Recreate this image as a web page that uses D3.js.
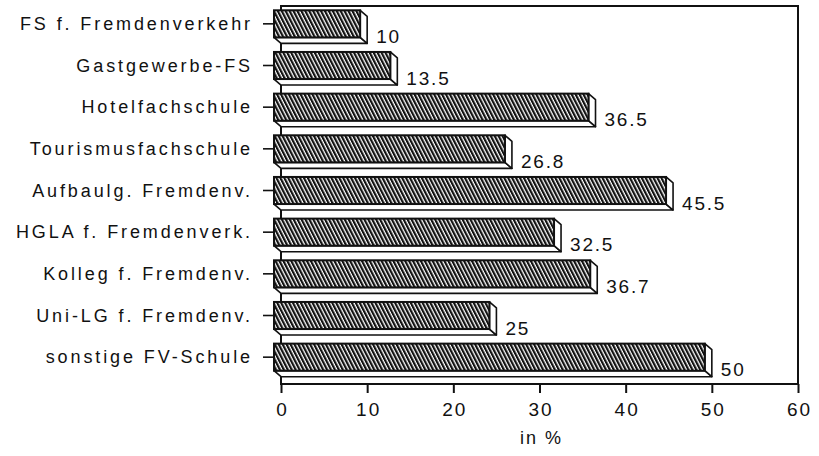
<!DOCTYPE html>
<html>
<head>
<meta charset="utf-8">
<script src="https://cdn.jsdelivr.net/npm/d3@7"></script>
<style>
  body { margin: 0; background: #fff; }
  text { font-family: "Liberation Sans", Arial, sans-serif; fill: #111; }
</style>
</head>
<body>
<div id="chart"></div>
<script>
// chart data
var categories = ["FS f. Fremdenverkehr", "Gastgewerbe-FS", "Hotelfachschule", "Tourismusfachschule",
  "Aufbaulg. Fremdenv.", "HGLA f. Fremdenverk.", "Kolleg f. Fremdenv.", "Uni-LG f. Fremdenv.", "sonstige FV-Schule"]
var values = [10, 13.5, 36.5, 26.8, 45.5, 32.5, 36.7, 25, 50]
var valueLabels = ["10", "13.5", "36.5", "26.8", "45.5", "32.5", "36.7", "25", "50"]
var xTicks = [0, 10, 20, 30, 40, 50, 60]
var xTitle = "in %"

const W = 819, H = 456
const plot = {left: 281, right: 798, top: 6, bottom: 384}
const depth = {dx: 7, dy: 6}   // 3d offset, front face sits up-left of the back plane

var svg = d3.select("#chart").append("svg")
  .attr("width", W).attr("height", H)

// hatch for the front faces
var defs = svg.append("defs")
defs.append("pattern")
  .attr("id", "hatch")
  .attr("patternUnits", "userSpaceOnUse")
  .attr("width", 3.5).attr("height", 10)
  .attr("patternTransform", "rotate(-27)")
  .call(p => {
    p.append("rect").attr("width", 3.5).attr("height", 10).attr("fill", "#fff")
    p.append("rect").attr("width", 2.2).attr("height", 10).attr("fill", "#111")
  })

var x = d3.scaleLinear().domain([0, 60]).range([plot.left, plot.right])
var y = d3.scaleBand().domain(categories)
  .range([plot.top + 3, plot.bottom])
  .paddingInner(0.35).paddingOuter(0.175)

// back frame
svg.append("rect")
  .attr("x", plot.left).attr("y", plot.top)
  .attr("width", plot.right - plot.left).attr("height", plot.bottom - plot.top)
  .attr("fill", "none").attr("stroke", "#111").attr("stroke-width", 2)

// x axis
var xAxis = svg.append("g")
  .attr("transform", "translate(0," + plot.bottom + ")")
  .call(d3.axisBottom(x).tickValues(xTicks).tickSize(9).tickPadding(10))
xAxis.select(".domain").remove()
xAxis.selectAll("line").attr("stroke", "#111").attr("stroke-width", 2)
xAxis.selectAll("text")
  .style("font-family", "'Liberation Sans', Arial, sans-serif")
  .style("font-size", "19px").style("letter-spacing", "2px")
  .attr("dx", "1px")
  .attr("fill", "#111")

svg.append("text")
  .attr("x", (plot.left + plot.right) / 2 + 2).attr("y", 444)
  .attr("text-anchor", "middle")
  .style("font-size", "18px").style("letter-spacing", "2px")
  .text(xTitle)

// bars
var bars = svg.selectAll(".bar")
  .data(categories)
  .enter().append("g")
  .attr("class", "bar")

bars.each(function(c, i) {
  var g = d3.select(this)
  var bt = y(c) - depth.dy          // front top
  var bh = y.bandwidth()
  var x0 = x(0) - depth.dx
  var x1 = x(values[i]) - depth.dx
  var dx = depth.dx, dy = depth.dy
  // bottom face
  g.append("path")
    .attr("d", "M" + x0 + "," + (bt + bh) + "L" + (x0 + dx) + "," + (bt + bh + dy) +
      "L" + (x1 + dx) + "," + (bt + bh + dy) + "L" + x1 + "," + (bt + bh) + "Z")
    .attr("fill", "#fff").attr("stroke", "#111").attr("stroke-width", 1.6)
    .attr("stroke-linejoin", "round")
  // right face
  g.append("path")
    .attr("d", "M" + x1 + "," + bt + "L" + (x1 + dx) + "," + (bt + dy) +
      "L" + (x1 + dx) + "," + (bt + bh + dy) + "L" + x1 + "," + (bt + bh) + "Z")
    .attr("fill", "#fff").attr("stroke", "#111").attr("stroke-width", 1.6)
    .attr("stroke-linejoin", "round")
  // front face
  g.append("rect")
    .attr("x", x0).attr("y", bt)
    .attr("width", x1 - x0).attr("height", bh)
    .attr("fill", "url(#hatch)").attr("stroke", "#111").attr("stroke-width", 2)
  // tick
  g.append("line")
    .attr("x1", x0 - 11).attr("x2", x0)
    .attr("y1", bt + bh / 2).attr("y2", bt + bh / 2)
    .attr("stroke", "#111").attr("stroke-width", 1.6)
  // value label
  g.append("text")
    .attr("x", x(values[i]) + 9).attr("y", bt + bh / 2 + 19)
    .style("font-size", "19px").style("letter-spacing", "1.8px")
    .text(valueLabels[i])
  // category label
  g.append("text")
    .attr("x", x0 - 21).attr("y", bt + bh / 2)
    .attr("dy", "0.35em")
    .attr("text-anchor", "end")
    .style("font-size", "18px")
    .style("letter-spacing", "2.9px")
    .text(c)
})
</script>
</body>
</html>
